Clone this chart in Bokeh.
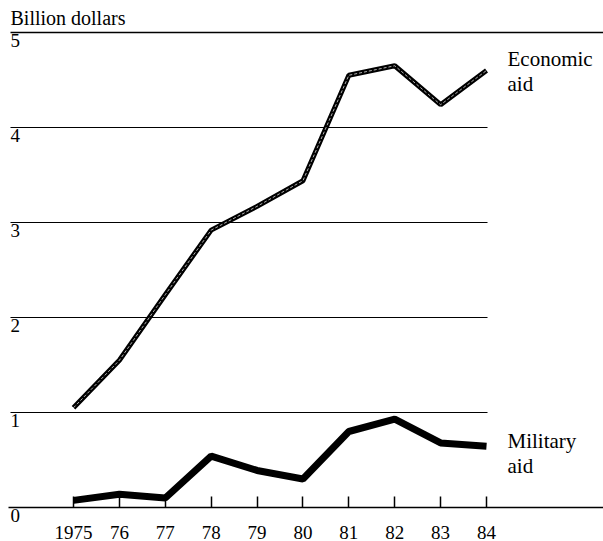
from bokeh.plotting import figure
from bokeh.models import Range1d, FixedTicker, LabelSet, ColumnDataSource, Label
from bokeh.core.properties import value
from bokeh.embed import file_html
from bokeh.resources import INLINE

# ---- data ----
years = [1975, 1976, 1977, 1978, 1979, 1980, 1981, 1982, 1983, 1984]
year_labels = ["1975", "76", "77", "78", "79", "80", "81", "82", "83", "84"]
economic = [1.05, 1.55, 2.24, 2.92, 3.17, 3.44, 4.55, 4.65, 4.24, 4.60]
military = [0.075, 0.14, 0.10, 0.54, 0.39, 0.30, 0.80, 0.93, 0.68, 0.645]
y_ticks = [0, 1, 2, 3, 4, 5]
y_tick_labels = ["0", "1", "2", "3", "4", "5"]
unit_label = "Billion dollars"
series_labels = ["Economic\naid", "Military\naid"]

# ---- layout ----
FONT = "Liberation Serif"
W, H = 603, 541
px_per_year = 45.89
px_per_unit = 95.0
x_start = years[0] - 73 / px_per_year
x_end = x_start + W / px_per_year
y_end = y_ticks[-1] + 32 / px_per_unit
y_start = y_end - H / px_per_unit
grid_x0 = years[0] - 63 / px_per_year
grid_x1 = years[-1] + 1 / px_per_year

p = figure(width=W, height=H, output_backend="svg", toolbar_location=None,
           x_range=Range1d(x_start, x_end), y_range=Range1d(y_start, y_end),
           y_axis_location=None, min_border_left=0, min_border_right=0,
           min_border_top=0, min_border_bottom=0)
p.outline_line_color = None
p.xgrid.visible = False
p.ygrid.visible = False
p.background_fill_color = "white"
p.border_fill_color = "white"

# horizontal rules
mid = [t for t in y_ticks if t not in (y_ticks[0], y_ticks[-1])]
p.segment(x0=[grid_x0] * len(mid), y0=mid, x1=[grid_x1] * len(mid), y1=mid,
          line_color="black", line_width=1.2)
p.segment(x0=[grid_x0], y0=[y_ticks[-1]], x1=[x_end], y1=[y_ticks[-1]],
          line_color="black", line_width=1.6)

# series
p.line(years, economic, line_color="black", line_width=5)
p.line(years, economic, line_color="white", line_width=1, line_dash="3 2", line_alpha=0.7)
p.line(years, military, line_color="black", line_width=7)

# x axis, drawn at y = 0
ax = p.xaxis[0]
ax.fixed_location = y_ticks[0]
ax.bounds = (x_start + 8 / px_per_year, x_end)
ax.ticker = FixedTicker(ticks=years)
ax.major_label_overrides = {y: l for y, l in zip(years, year_labels)}
ax.major_tick_in = 11
ax.major_tick_out = 0
ax.minor_tick_line_color = None
ax.axis_line_width = 1.5
ax.major_tick_line_width = 1.5
ax.axis_line_color = "black"
ax.major_tick_line_color = "black"
ax.major_label_text_font = FONT
ax.major_label_text_font_size = "19px"
ax.major_label_text_color = "black"
ax.major_label_standoff = 18

# y tick labels
ysrc = ColumnDataSource(dict(x=[grid_x0] * len(y_ticks), y=y_ticks, t=y_tick_labels))
p.add_layout(LabelSet(x="x", y="y", text="t", source=ysrc, text_baseline="top",
                      y_offset=-1, text_font=value(FONT), text_font_size=value("19px"),
                      text_color="black"))

# unit label
p.add_layout(Label(x=grid_x0, y=y_ticks[-1], text=unit_label, text_baseline="top",
                   y_offset=26, text_font=FONT, text_font_size="20px", text_color="black"))

# series labels
ssrc = ColumnDataSource(dict(x=[years[-1], years[-1]], y=[economic[-1], military[-1]],
                             t=series_labels, dy=[24, 17]))
p.add_layout(LabelSet(x="x", y="y", text="t", source=ssrc, text_baseline="top",
                      x_offset=21, y_offset="dy", text_font=value(FONT),
                      text_font_size=value("21px"), text_color="black",
                      text_line_height=1.05))

open("out.html", "w").write(file_html(p, INLINE))
